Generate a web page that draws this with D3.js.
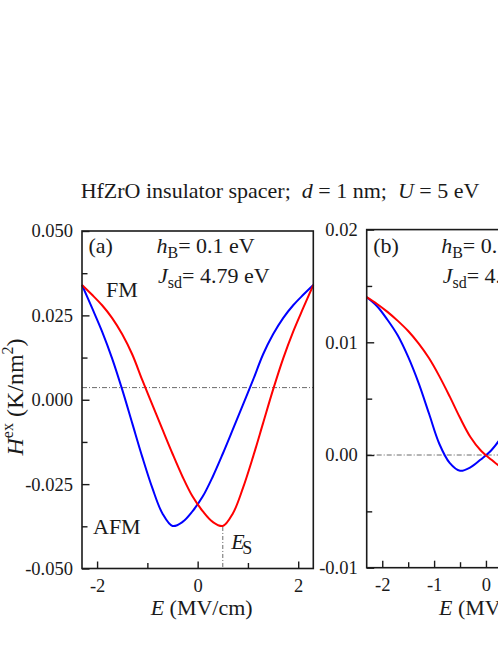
<!DOCTYPE html>
<html><head><meta charset="utf-8">
<script src="https://cdn.jsdelivr.net/npm/d3@7"></script>
<style>
body{margin:0;background:#fff;}
svg{display:block;font-family:"Liberation Serif","Times New Roman",serif;}
</style></head><body>
<svg id="chart" width="498" height="645"></svg>
<script>
// ---- data ----
const E = [-2.3,-2.1,-1.9,-1.7,-1.5,-1.3,-1.1,-0.9,-0.7,-0.5,-0.3,-0.1,0.1,0.3,0.5,0.7,0.9,1.1,1.3,1.5,1.7,1.9,2.1,2.3];
// panel (a)
const redA  = [0.0340,0.0311,0.0280,0.0242,0.0194,0.0134,0.0058,-0.0015,-0.0088,-0.0160,-0.0228,-0.0287,-0.0330,-0.0362,-0.0374,-0.0337,-0.0262,-0.0170,-0.0070,0.0030,0.0122,0.0202,0.0272,0.0340];
const blueA = [0.0340,0.0272,0.0202,0.0122,0.0030,-0.0070,-0.0170,-0.0262,-0.0337,-0.0374,-0.0362,-0.0330,-0.0287,-0.0228,-0.0160,-0.0088,-0.0015,0.0058,0.0134,0.0194,0.0242,0.0280,0.0311,0.0340];
// panel (b)
const redB  = [0.0140,0.0134,0.0127,0.0119,0.0110,0.0099,0.0086,0.0070,0.0052,0.0033,0.0016,0.0004,-0.0004,-0.0011,-0.0014,-0.0007,0.0010,0.0037,0.0064,0.0087,0.0106,0.0120,0.0132,0.0140];
const blueB = [0.0140,0.0132,0.0120,0.0106,0.0087,0.0064,0.0037,0.0010,-0.0007,-0.0014,-0.0011,-0.0004,0.0004,0.0016,0.0033,0.0052,0.0070,0.0086,0.0099,0.0110,0.0119,0.0127,0.0134,0.0140];

const xDomain = [-2.3, 2.3];
const xMajorA = [-2, 0, 2], xLabelsA = ["-2", "0", "2"], xMinorA = [-1, 1];
const xMajorB = [-2, -1, 0, 1, 2], xLabelsB = ["-2", "-1", "0", "1", "2"], xMinorB = [-1.5, -0.5, 0.5, 1.5];
const yDomainA = [-0.05, 0.05];
const yMajorA = [0.05, 0.025, 0, -0.025, -0.05], yLabelsA = ["0.050", "0.025", "0.000", "-0.025", "-0.050"];
const yMinorA = [0.0375, 0.0125, -0.0125, -0.0375];
const yDomainB = [-0.01, 0.02];
const yMajorB = [0.02, 0.01, 0, -0.01], yLabelsB = ["0.02", "0.01", "0.00", "-0.01"];
const yMinorB = [0.015, 0.005, -0.005];
const refA = 0.0036, refB = 0.0;
const ES = 0.5;

const title = ["HfZrO insulator spacer;\u00a0 ", "d", " = 1 nm;\u00a0 ", "U", " = 5 eV"];

// ---- drawing ----
const FONT = "'Liberation Serif','Times New Roman',serif";
const svg = d3.select("#chart").attr("font-family", FONT);
svg.append("rect").attr("width", 498).attr("height", 645).attr("fill", "#fff");

const FS = 22, TFS = 18.5, SUB = 16;
const ink = "#1a1a1a";

// title
const tt = svg.append("text").attr("x", 280).attr("y", 198).attr("text-anchor", "middle")
  .attr("font-size", FS).attr("fill", ink).attr("xml:space", "preserve");
title.forEach((s, i) => tt.append("tspan").attr("font-style", i % 2 ? "italic" : "normal").text(s));

function drawPanel(p) {
  const x = d3.scaleLinear().domain(xDomain).range([p.left, p.right]);
  const y = d3.scaleLinear().domain(p.yDomain).range([p.bottom, p.top]);
  const g = svg.append("g");

  // reference dash-dot line
  g.append("line").attr("x1", p.left).attr("x2", p.right)
    .attr("y1", y(p.ref)).attr("y2", y(p.ref))
    .attr("stroke", "#6a6a6a").attr("stroke-width", 1).attr("stroke-dasharray", "5,2,1,2");

  const line = d3.line().x((d, i) => x(E[i])).y(d => y(d)).curve(d3.curveCatmullRom.alpha(0.5));
  g.append("path").datum(p.blue).attr("d", line).attr("fill", "none").attr("stroke", "#0000ff").attr("stroke-width", 2);
  g.append("path").datum(p.red).attr("d", line).attr("fill", "none").attr("stroke", "#ff0000").attr("stroke-width", 2);

  if (p.es) {
    const yMin = p.red[E.indexOf(ES)];
    g.append("line").attr("x1", x(ES)).attr("x2", x(ES)).attr("y1", y(yMin) + 1).attr("y2", p.bottom)
      .attr("stroke", "#6a6a6a").attr("stroke-width", 1).attr("stroke-dasharray", "4,2,1,2");
    const t = g.append("text").attr("x", x(ES) + 8.5).attr("y", 549).attr("font-size", FS).attr("fill", ink);
    t.append("tspan").attr("font-style", "italic").text("E");
    t.append("tspan").attr("dx", -2.5).attr("dy", 5).attr("font-size", 18).text("S");
  }

  // frame
  g.append("rect").attr("x", p.left).attr("y", p.top).attr("width", p.right - p.left).attr("height", p.bottom - p.top)
    .attr("fill", "none").attr("stroke", ink).attr("stroke-width", 1.6);

  const style = sel => {
    sel.select(".domain").remove();
    sel.attr("font-family", FONT).attr("font-size", TFS);
    sel.selectAll("line").attr("stroke", ink).attr("stroke-width", 1.4);
    sel.selectAll("text").attr("fill", ink);
  };
  // y axis
  g.append("g").attr("transform", `translate(${p.left},0)`)
    .call(d3.axisLeft(y).tickValues(p.yMajor).tickFormat(d => p.yLabels[p.yMajor.indexOf(d)])
      .tickSizeInner(-7.5).tickSizeOuter(0).tickPadding(9)).call(style);
  g.append("g").attr("transform", `translate(${p.left},0)`)
    .call(d3.axisLeft(y).tickValues(p.yMinor).tickFormat("").tickSizeInner(-5.5).tickSizeOuter(0)).call(style);
  // x axis
  g.append("g").attr("transform", `translate(0,${p.bottom})`)
    .call(d3.axisBottom(x).tickValues(p.xMajor).tickFormat(d => p.xLabels[p.xMajor.indexOf(d)])
      .tickSizeInner(-7).tickSizeOuter(0).tickPadding(10)).call(style);
  g.append("g").attr("transform", `translate(0,${p.bottom})`)
    .call(d3.axisBottom(x).tickValues(p.xMinor).tickFormat("").tickSizeInner(-5.5).tickSizeOuter(0)).call(style);

  // x axis title
  const xt = g.append("text").attr("x", (p.left + p.right) / 2 + 4).attr("y", 615).attr("text-anchor", "middle")
    .attr("font-size", FS).attr("fill", ink);
  xt.append("tspan").attr("font-style", "italic").text("E");
  xt.append("tspan").text(" (MV/cm)");

  // panel label and parameters
  g.append("text").attr("x", p.left + 6.5).attr("y", 253).attr("font-size", FS).attr("fill", ink).text(p.tag);
  const h = g.append("text").attr("x", p.left + 74.5).attr("y", 253).attr("font-size", FS).attr("fill", ink);
  h.append("tspan").attr("font-style", "italic").text("h");
  h.append("tspan").attr("font-size", SUB).attr("dy", 5).text("B");
  h.append("tspan").attr("dy", -5).text("= " + p.hB);
  const j = g.append("text").attr("x", p.left + 76).attr("y", 283).attr("font-size", FS).attr("fill", ink);
  j.append("tspan").attr("font-style", "italic").text("J");
  j.append("tspan").attr("font-size", SUB).attr("dy", 5).text("sd");
  j.append("tspan").attr("dy", -5).text("= " + p.Jsd);

  if (p.fm) {
    g.append("text").attr("x", p.left + 24).attr("y", 296.5).attr("font-size", FS).attr("fill", ink).text("FM");
    g.append("text").attr("x", p.left + 11).attr("y", 534).attr("font-size", FS).attr("fill", ink).text("AFM");
  }
  return {x, y};
}

drawPanel({left: 82, right: 313.3, top: 231, bottom: 568.5, yDomain: yDomainA,
  yMajor: yMajorA, yLabels: yLabelsA, yMinor: yMinorA, xMajor: xMajorA, xLabels: xLabelsA, xMinor: xMinorA,
  red: redA, blue: blueA, ref: refA, es: true, fm: true, tag: "(a)", hB: "0.1 eV", Jsd: "4.79 eV"});
drawPanel({left: 366.7, right: 605.2, top: 229.6, bottom: 567.7, yDomain: yDomainB,
  yMajor: yMajorB, yLabels: yLabelsB, yMinor: yMinorB, xMajor: xMajorB, xLabels: xLabelsB, xMinor: xMinorB,
  red: redB, blue: blueB, ref: refB, es: false, fm: false, tag: "(b)", hB: "0.1 eV", Jsd: "4.79 eV"});

// y axis title (panel a)
const yt = svg.append("text").attr("transform", "translate(23,397) rotate(-90)").attr("text-anchor", "middle")
  .attr("font-size", 24).attr("fill", ink);
yt.append("tspan").attr("font-style", "italic").text("H");
yt.append("tspan").attr("font-size", 16).attr("dy", -10).text("ex");
yt.append("tspan").attr("dy", 10).text(" (K/nm");
yt.append("tspan").attr("font-size", 16).attr("dy", -10).text("2");
yt.append("tspan").attr("dy", 10).text(")");
</script>
</body></html>
